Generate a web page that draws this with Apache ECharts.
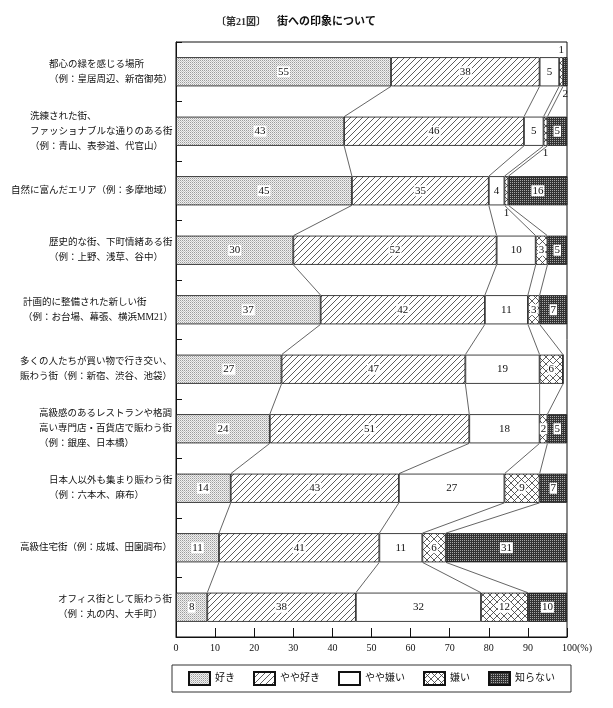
<!DOCTYPE html>
<html>
<head>
    <meta charset="utf-8">
    <title>街への印象について</title>
    <script src="https://cdn.jsdelivr.net/npm/echarts@6/dist/echarts.min.js"></script>
    <style>
        html, body { margin: 0; padding: 0; background: #fff; }
    </style>
</head>
<body>
    <div id="main" style="width: 613px;height:708px;"></div>
    <script type="text/javascript">

    // categories, top to bottom
    var categories = [
        '都心の緑を感じる場所\n（例：皇居周辺、新宿御苑）',
        '洗練された街、\nファッショナブルな通りのある街\n（例：青山、表参道、代官山）',
        '自然に富んだエリア（例：多摩地域）',
        '歴史的な街、下町情緒ある街\n（例：上野、浅草、谷中）',
        '計画的に整備された新しい街\n（例：お台場、幕張、横浜MM21）',
        '多くの人たちが買い物で行き交い、\n賑わう街（例：新宿、渋谷、池袋）',
        '高級感のあるレストランや格調\n高い専門店・百貨店で賑わう街\n（例：銀座、日本橋）',
        '日本人以外も集まり賑わう街\n（例：六本木、麻布）',
        '高級住宅街（例：成城、田園調布）',
        'オフィス街として賑わう街\n（例：丸の内、大手町）'
    ];
    var seriesNames = ['好き', 'やや好き', 'やや嫌い', '嫌い', '知らない'];

    var like          = [55, 43, 45, 30, 37, 27, 24, 14, 11, 8];
    var ratherLike    = [38, 46, 35, 52, 42, 47, 51, 43, 41, 38];
    var ratherDislike = [5, 5, 4, 10, 11, 19, 18, 27, 11, 32];
    var dislike       = [1, 1, 1, 3, 3, 6, 2, 9, 6, 12];
    var unknown       = [2, 5, 16, 5, 7, 0, 5, 7, 31, 10];

    var values = [like, ratherLike, ratherDislike, dislike, unknown];

    // small values whose label sits outside the bar: "category,series" -> position
    var outsideLabel = { '0,3': 'top', '0,4': 'bottom', '1,3': 'bottom', '2,3': 'bottom' };

    var FONT = "'Liberation Serif', 'Noto Sans CJK JP', serif";
    var CAT_FONT_SIZE = 9.5;
    var BAR_RATIO = 0.49;

    function pattern(size, draw) {
        var c = document.createElement('canvas');
        c.width = size; c.height = size;
        var ctx = c.getContext('2d');
        draw(ctx, size);
        return { image: c, repeat: 'repeat' };
    }

    var fills = [
        pattern(2, function (ctx) {
            ctx.fillStyle = '#f0f0f0'; ctx.fillRect(0, 0, 2, 2);
            ctx.fillStyle = '#9c9c9c'; ctx.fillRect(0, 0, 1, 1);
            ctx.fillStyle = '#c6c6c6'; ctx.fillRect(1, 1, 1, 1);
        }),
        pattern(6, function (ctx, s) {
            ctx.fillStyle = '#fff'; ctx.fillRect(0, 0, s, s);
            ctx.strokeStyle = '#333'; ctx.lineWidth = 0.8;
            ctx.beginPath();
            ctx.moveTo(0, s); ctx.lineTo(s, 0);
            ctx.moveTo(-1, 1); ctx.lineTo(1, -1);
            ctx.moveTo(s - 1, s + 1); ctx.lineTo(s + 1, s - 1);
            ctx.stroke();
        }),
        '#ffffff',
        pattern(7, function (ctx, s) {
            ctx.fillStyle = '#fff'; ctx.fillRect(0, 0, s, s);
            ctx.strokeStyle = '#333'; ctx.lineWidth = 0.8;
            ctx.beginPath();
            ctx.moveTo(0, s); ctx.lineTo(s, 0);
            ctx.moveTo(0, 0); ctx.lineTo(s, s);
            ctx.stroke();
        }),
        pattern(2, function (ctx) {
            ctx.fillStyle = '#333'; ctx.fillRect(0, 0, 2, 2);
            ctx.fillStyle = '#a8a8a8'; ctx.fillRect(0, 0, 1, 1);
        })
    ];

    function cumulative(i) {
        var out = [], sum = 0;
        for (var k = 0; k < 4; k++) {
            sum += values[k][i];
            out.push(Math.min(sum, 100));
        }
        return out;
    }

    // left-aligned multi-line category labels: one rich style per label, as wide as its longest line
    var measure = document.createElement('canvas').getContext('2d');
    measure.font = CAT_FONT_SIZE + 'px ' + FONT;
    var catRich = {};
    categories.forEach(function (c, i) {
        var w = 0;
        c.split('\n').forEach(function (l) { w = Math.max(w, measure.measureText(l).width); });
        catRich['c' + i] = {
            width: Math.ceil(w) + 1,
            align: 'left',
            fontFamily: FONT,
            fontSize: CAT_FONT_SIZE,
            lineHeight: 15,
            color: '#111'
        };
    });

    var series = seriesNames.map(function (name, s) {
        return {
            name: name,
            type: 'bar',
            stack: 'total',
            barWidth: (BAR_RATIO * 100) + '%',
            itemStyle: { color: fills[s], borderColor: '#111', borderWidth: 0.8 },
            label: {
                show: true,
                position: 'inside',
                fontFamily: FONT,
                fontSize: 11,
                color: '#111',
                backgroundColor: '#fff',
                padding: [0, 1],
                formatter: function (p) { return p.value > 0 ? p.value : ''; }
            },
            data: values[s].map(function (v, i) {
                var pos = outsideLabel[i + ',' + s];
                if (!pos) return v;
                return {
                    value: v,
                    label: { position: pos, distance: 2, backgroundColor: 'transparent' }
                };
            })
        };
    });

    // connector lines between neighbouring bars
    series.push({
        type: 'custom',
        silent: true,
        z: 1,
        data: categories.slice(1).map(function (c, i) { return [0, i]; }),
        renderItem: function (params, api) {
            var i = api.value(1);
            var half = api.size([0, 1])[1] * BAR_RATIO / 2;
            var a = cumulative(i), b = cumulative(i + 1);
            var children = [];
            for (var k = 0; k < 4; k++) {
                var p1 = api.coord([a[k], i]);
                var p2 = api.coord([b[k], i + 1]);
                children.push({
                    type: 'line',
                    shape: { x1: p1[0], y1: p1[1] + half, x2: p2[0], y2: p2[1] - half },
                    style: { stroke: '#222', lineWidth: 0.7 }
                });
            }
            return { type: 'group', children: children };
        }
    });

    var myChart = echarts.init(document.getElementById('main'));

    var option = {
        animation: false,
        backgroundColor: '#fff',
        title: {
            left: 211,
            top: 12,
            text: '{a|〔第21図〕}{b|　街への印象について}',
            textStyle: {
                rich: {
                    a: { fontFamily: FONT, fontSize: 10, color: '#333' },
                    b: { fontFamily: FONT, fontSize: 11, fontWeight: 'bold', color: '#111' }
                }
            }
        },
        legend: {
            data: seriesNames,
            left: 172,
            top: 665,
            padding: [6, 16],
            itemWidth: 21,
            itemHeight: 13,
            itemGap: 18,
            borderColor: '#333',
            borderWidth: 1,
            icon: 'rect',
            textStyle: { fontFamily: FONT, fontSize: 10, color: '#111' }
        },
        grid: {
            left: 176,
            right: 46,
            top: 42,
            bottom: 71,
            show: true,
            borderColor: '#111',
            borderWidth: 1,
            containLabel: false
        },
        xAxis: {
            type: 'value',
            min: 0,
            max: 100,
            interval: 10,
            splitLine: { show: false },
            axisLine: { show: true, lineStyle: { color: '#111' } },
            axisTick: { show: true, inside: true, length: 9, lineStyle: { color: '#111' } },
            axisLabel: {
                margin: 6,
                fontFamily: FONT,
                fontSize: 10,
                color: '#111',
                formatter: function (v) { return v === 100 ? '{s|}{n|100}{n|(%)}' : v; },
                rich: {
                    s: { width: 20 },
                    n: { fontFamily: FONT, fontSize: 10, color: '#111' }
                }
            }
        },
        yAxis: {
            type: 'category',
            inverse: true,
            data: categories,
            axisLine: { show: true, lineStyle: { color: '#111' } },
            axisTick: { show: true, inside: true, length: 6, interval: 0, lineStyle: { color: '#111' } },
            axisLabel: {
                margin: 2,
                interval: 0,
                formatter: function (v, i) {
                    return v.split('\n').map(function (l) { return '{c' + i + '|' + l + '}'; }).join('\n');
                },
                rich: catRich
            }
        },
        series: series
    };

    myChart.setOption(option);

    </script>
</body>
</html>
